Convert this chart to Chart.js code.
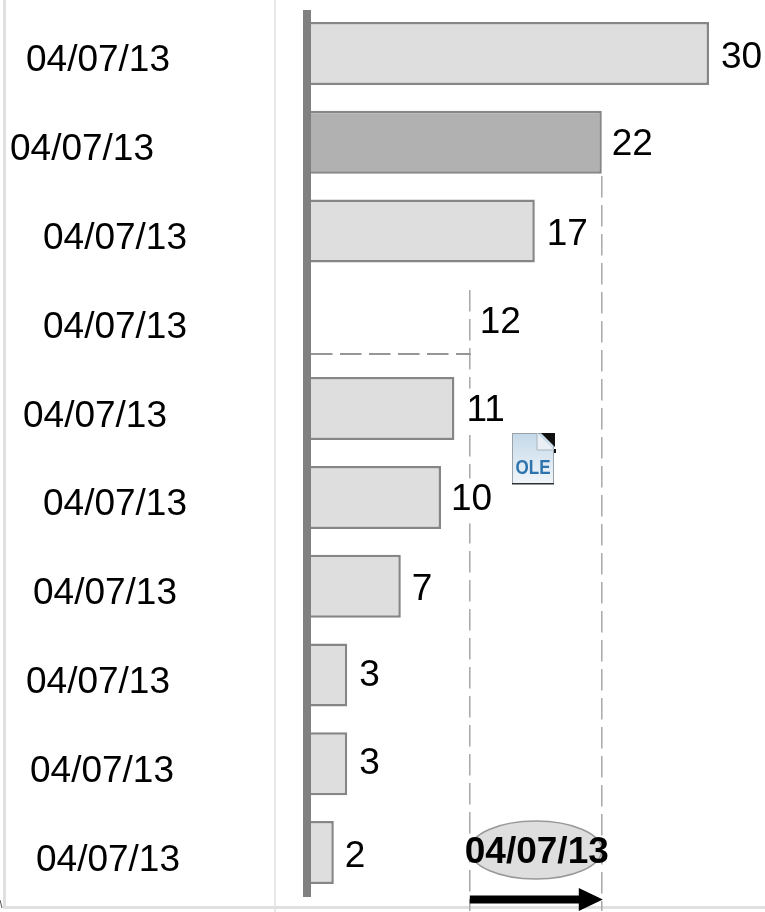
<!DOCTYPE html>
<html><head><meta charset="utf-8">
<style>html,body{margin:0;padding:0;background:#fff}canvas{display:block}</style>
<script src="https://cdn.jsdelivr.net/npm/chart.js@4"></script>
</head><body><canvas id="c" width="765" height="912"></canvas>
<script>
const categories = ["04/07/13","04/07/13","04/07/13","04/07/13","04/07/13","04/07/13","04/07/13","04/07/13","04/07/13","04/07/13"];
const values = [30,22,17,12,11,10,7,3,3,2];
const calloutLabel = "04/07/13";
const calloutFrom = 12, calloutTo = 22;

const FONT = '"Liberation Sans", Arial, sans-serif';
const labelLeft = [26,10,43,43,23,43,33,26,30,36];
const valueNudgeX = [0,-2,0,0,0,-2,-1,0,0,-1];
const valueNudgeY = [2,0,1,0,-1,0,1,-2,-3,1];
const fills = ['#dedede','#b1b1b1','#dedede','rgba(0,0,0,0)','#dedede','#dedede','#dedede','#dedede','#dedede','#dedede'];
const strokes = fills.map((f,i)=> i===3 ? 'rgba(0,0,0,0)' : '#868686');

const overlay = {
  id:'overlay',
  beforeDatasetsDraw(chart){
    const {ctx} = chart, x = chart.scales.x, y = chart.scales.y;
    ctx.save();
    // slide frame
    ctx.strokeStyle='#e0e0e0'; ctx.lineWidth=3;
    ctx.beginPath(); ctx.moveTo(4.5,0); ctx.lineTo(4.5,907.5); ctx.lineTo(765,907.5); ctx.stroke();
    ctx.lineWidth=1.5; ctx.beginPath(); ctx.moveTo(275,0); ctx.lineTo(275,912); ctx.stroke();
    ctx.strokeStyle='#555'; ctx.lineWidth=1; ctx.beginPath(); ctx.moveTo(0,900); ctx.lineTo(2,908); ctx.stroke();
    // dashed guides
    ctx.strokeStyle='#a8a8a8'; ctx.lineWidth=1.5; ctx.setLineDash([21.5,7.5]);
    const a = x.getPixelForValue(calloutFrom)+2, b = x.getPixelForValue(calloutTo);
    const band = y.getPixelForTick(1)-y.getPixelForTick(0);
    const y4 = y.getPixelForTick(3);
    ctx.beginPath();
    ctx.moveTo(a, y4-band*0.335); ctx.lineTo(a, 911);
    ctx.moveTo(b, y.getPixelForTick(1)+band*0.38); ctx.lineTo(b, 911);
    ctx.stroke();
    ctx.strokeStyle='#969696'; ctx.lineWidth=2;
    ctx.beginPath(); ctx.moveTo(311, y4+band*0.385); ctx.lineTo(a+1, y4+band*0.385); ctx.stroke();
    ctx.restore();
  },
  afterDatasetsDraw(chart){
    const {ctx} = chart, x = chart.scales.x, y = chart.scales.y;
    ctx.save();
    // axis line
    ctx.fillStyle='#808080'; ctx.fillRect(x.getPixelForValue(0)-4,10,8,887);
    ctx.textBaseline='alphabetic'; ctx.textAlign='left'; ctx.font='37px '+FONT; ctx.fillStyle='#000';
    categories.forEach((c,i)=> ctx.fillText(c, labelLeft[i], y.getPixelForTick(i)+18));
    values.forEach((v,i)=>{
      const px = x.getPixelForValue(v)+12+valueNudgeX[i], py = y.getPixelForTick(i)+13+valueNudgeY[i];
      if(i===4||i===5){ ctx.fillStyle='#fff'; ctx.fillRect(px-3, py-32, ctx.measureText(String(v)).width+6, 45); ctx.fillStyle='#000'; }
      ctx.fillText(String(v), px, py);
    });
    // callout
    const a = x.getPixelForValue(calloutFrom)+2, b = x.getPixelForValue(calloutTo);
    const cx=(a+b)/2;
    ctx.beginPath(); ctx.ellipse(cx,850,66,29,0,0,Math.PI*2);
    ctx.fillStyle='#dedede'; ctx.fill(); ctx.strokeStyle='#999'; ctx.lineWidth=1.5; ctx.stroke();
    ctx.fillStyle='#000'; ctx.font='bold 37px '+FONT; ctx.textAlign='center';
    ctx.fillText(calloutLabel, cx+1, 863);
    ctx.beginPath();
    ctx.moveTo(a,895.5);ctx.lineTo(b-23,895.5);ctx.lineTo(b-23,888);ctx.lineTo(b+1,899.5);ctx.lineTo(b-23,911);ctx.lineTo(b-23,903.5);ctx.lineTo(a,903.5);ctx.closePath();ctx.fill();
    // OLE icon
    const ix=512, iy=433;
    const g=ctx.createLinearGradient(0,iy,0,iy+50); g.addColorStop(0,'#c4d8e8'); g.addColorStop(1,'#f0f5f9');
    ctx.fillStyle=g; ctx.fillRect(ix,iy,42,51);
    ctx.strokeStyle='#9aa3aa'; ctx.lineWidth=1; ctx.strokeRect(ix+.5,iy+.5,41,50);
    ctx.fillStyle='#2a3036'; ctx.fillRect(ix,iy+50,42,1.5);
    ctx.fillStyle='#e9eff4'; ctx.beginPath(); ctx.moveTo(ix+25,iy);ctx.lineTo(ix+25,iy+17);ctx.lineTo(ix+42,iy+17);ctx.closePath();ctx.fill();
    ctx.strokeStyle='#a9b4bc'; ctx.beginPath(); ctx.moveTo(ix+25,iy);ctx.lineTo(ix+25,iy+17);ctx.lineTo(ix+42,iy+17);ctx.stroke();
    ctx.fillStyle='#111'; ctx.beginPath(); ctx.moveTo(ix+29,iy);ctx.lineTo(ix+43,iy);ctx.lineTo(ix+43,iy+14);ctx.closePath();ctx.fill();
    ctx.fillRect(ix+42,iy+16,2,4);
    ctx.fillStyle='#2d73ae'; ctx.font='bold 21px '+FONT; ctx.textAlign='center';
    ctx.fillText('OLE', ix+21, iy+41, 35);
    ctx.restore();
  }
};

new Chart(document.getElementById('c'),{
  type:'bar',
  data:{labels:categories,datasets:[{data:values,backgroundColor:fills,borderColor:strokes,borderWidth:2.5,borderSkipped:false,barPercentage:0.71,categoryPercentage:1}]},
  options:{
    indexAxis:'y',responsive:false,animation:false,devicePixelRatio:1,
    layout:{padding:{top:9,bottom:15,left:0,right:0}},
    plugins:{legend:{display:false},tooltip:{enabled:false},title:{display:false}},
    scales:{
      x:{type:'linear',min:0,max:34.18,display:false,grid:{display:false}},
      y:{position:'left',grid:{display:false},ticks:{display:false},
         border:{display:false},
         afterFit(s){s.width=307;}}
    }
  },
  plugins:[overlay]
});
</script></body></html>
